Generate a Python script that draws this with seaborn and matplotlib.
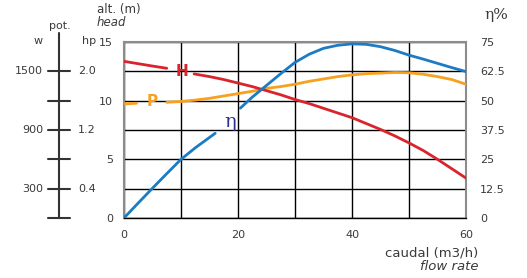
import matplotlib
matplotlib.use('Agg')
import matplotlib.pyplot as plt
import numpy as np
import pandas as pd
import seaborn as sns

# --------------------------
# DATA
# --------------------------
# head H (m) vs flow (m3/h), split where the "H" label sits
h_flow = [0, 2.5, 5, 7.5, np.nan, 12.3, 15, 17.5, 20, 22.5, 25, 27.5, 30, 32.5, 35, 37.5,
          40, 42.5, 45, 47.5, 50, 52.5, 55, 57.5, 60]
h_head = [13.35, 13.15, 12.95, 12.76, np.nan, 12.28, 12.05, 11.8, 11.5, 11.2, 10.85, 10.5, 10.1, 9.75,
          9.35, 8.95, 8.55, 8.05, 7.55, 7.0, 6.4, 5.75, 5.0, 4.2, 3.4]

# power P (drawn on the head scale), split around the "P" label
p_flow = [0, 2.2, np.nan, 7.5, 10, 12.5, 15, 17.5, 20, 22.5, 25, 27.5, 30, 32.5, 35, 37.5,
          40, 42.5, 45, 47.5, 50, 52.5, 55, 57.5, 60]
p_head = [9.72, 9.78, np.nan, 9.86, 9.93, 10.05, 10.2, 10.4, 10.6, 10.8, 11.05, 11.2, 11.4, 11.65,
          11.85, 12.05, 12.2, 12.3, 12.35, 12.4, 12.38, 12.25, 12.05, 11.8, 11.4]

# efficiency eta (%), split around the eta label
eta_flow = [0, 2.5, 5, 7.5, 10, 12.5, 16, np.nan, 20.4, 22.5, 25, 27.5, 30, 32.5, 35, 37.5,
            40, 42.5, 45, 47.5, 50, 52.5, 55, 57.5, 60]
eta_pct = [0, 6.4, 12.7, 18.9, 25, 29.9, 36.1, np.nan, 46.8, 51.5, 56.5, 61.5, 66.3, 69.8, 72.3, 73.6,
           74.2, 74.0, 73.0, 71.4, 69.4, 67.7, 65.9, 64.1, 62.4]

x_ticks = [0, 20, 40, 60]
head_ticks = [0, 5, 10, 15]
eta_ticks = [0, 12.5, 25, 37.5, 50, 62.5, 75]
eta_labels = ['0', '12.5', '25', '37.5', '50', '62.5', '75']

# power scale on the left (aligned with head grid lines)
pow_levels = [12.5, 7.5, 2.5]
watt_labels = ['1500', '900', '300']
hp_labels = ['2.0', '1.2', '0.4']

RED = '#d9232d'
ORANGE = '#f7a11f'
BLUE = '#1b7cc4'
ETA_TXT = '#2e3192'
TXT = '#3a3a3a'

W, H = 527, 278

sns.set_theme(style='white')
plt.rcParams['font.family'] = ['DejaVu Sans']
plt.rcParams['text.color'] = TXT
plt.rcParams['xtick.color'] = TXT
plt.rcParams['ytick.color'] = TXT


def px(x, y):
    return x / W, 1 - y / H


fig = plt.figure(figsize=(W / 100, H / 100), dpi=100)
left, bottom = 124 / W, 1 - 218 / H
width, height = (466 - 124) / W, (218 - 42) / H
ax = fig.add_axes([left, bottom, width, height])


def segments(xs, ys):
    # split a series at NaN gaps
    df = pd.DataFrame({'x': xs, 'y': ys})
    grp = df['x'].isna().cumsum()
    return [g.dropna() for _, g in df.groupby(grp)]


for seg in segments(h_flow, h_head):
    sns.lineplot(data=seg, x='x', y='y', ax=ax, color=RED, lw=2.0, zorder=5, sort=False)
for seg in segments(p_flow, p_head):
    sns.lineplot(data=seg, x='x', y='y', ax=ax, color=ORANGE, lw=2.0, zorder=4, sort=False)

ax.set_xlim(0, 60)
ax.set_ylim(0, 15)
ax.set_xticks(np.arange(0, 61, 10))
ax.set_yticks(np.arange(0, 15.1, 2.5))
ax.grid(True, color='black', lw=1.0, zorder=1)
ax.set_axisbelow(True)
ax.set_xticklabels([str(v) if v in x_ticks else '' for v in range(0, 61, 10)], fontsize=8)
ax.set_yticklabels([f'{v:g}' if v in head_ticks else '' for v in np.arange(0, 15.1, 2.5)], fontsize=8)
ax.tick_params(axis='both', length=0)
ax.tick_params(axis='x', pad=9)
ax.tick_params(axis='y', pad=8)
ax.set_xlabel('')
ax.set_ylabel('')
for s in ['left', 'top', 'right']:
    ax.spines[s].set_color('#8c8c8c')
    ax.spines[s].set_linewidth(1.5)
ax.spines['bottom'].set_color('black')
ax.spines['bottom'].set_linewidth(1.0)

ax.text(10.1, 12.5, 'H', color=RED, fontsize=11, fontweight='bold', ha='center', va='center', zorder=6)
ax.text(4.9, 9.95, 'P', color=ORANGE, fontsize=11, fontweight='bold', ha='center', va='center', zorder=6)

# efficiency on the right axis
ax2 = ax.twinx()
for seg in segments(eta_flow, eta_pct):
    sns.lineplot(data=seg, x='x', y='y', ax=ax2, color=BLUE, lw=2.0, zorder=5, sort=False)
ax2.set_ylim(0, 75)
ax2.set_yticks(eta_ticks)
ax2.set_yticklabels(eta_labels, fontsize=8)
ax2.tick_params(axis='y', length=0, pad=10)
ax2.set_ylabel('')
for s in ax2.spines.values():
    s.set_visible(False)
ax2.text(18.6, 41, 'η', color=ETA_TXT, fontsize=14, ha='center', va='center', family='DejaVu Serif')

# power scale on the left
axp = fig.add_axes([48 / W, bottom, 22 / W, height])
axp.set_xlim(-1, 1)
axp.set_ylim(0, 15)
axp.axis('off')
axp.plot([0, 0], [0, 15.8], color='#333333', lw=1.5, clip_on=False)
for lv in [0, 2.5, 5, 7.5, 10, 12.5]:
    axp.plot([-1, 1], [lv, lv], color='#333333', lw=1.5, clip_on=False)
for lv, wl, hl in zip(pow_levels, watt_labels, hp_labels):
    axp.text(-1.45, lv, wl, ha='right', va='center', fontsize=8)
    axp.text(1.75, lv, hl, ha='left', va='center', fontsize=8)

# axis titles
fig.text(*px(38, 41), 'w', ha='center', va='center', fontsize=8)
fig.text(*px(89, 41), 'hp', ha='center', va='center', fontsize=8)
fig.text(*px(60, 26), 'pot.', ha='center', va='center', fontsize=8)
fig.text(*px(97, 10), 'alt. (m)', ha='left', va='center', fontsize=8.5)
fig.text(*px(97, 23), 'head', ha='left', va='center', fontsize=8.5, style='italic')
fig.text(*px(484, 15), 'η%', ha='left', va='center', fontsize=11, family=['DejaVu Serif'])
fig.text(*px(478, 253), 'caudal (m3/h)', ha='right', va='center', fontsize=9.5)
fig.text(*px(478, 267), 'flow rate', ha='right', va='center', fontsize=9.5, style='italic')

plt.savefig('out.png', dpi=100)
plt.close(fig)
